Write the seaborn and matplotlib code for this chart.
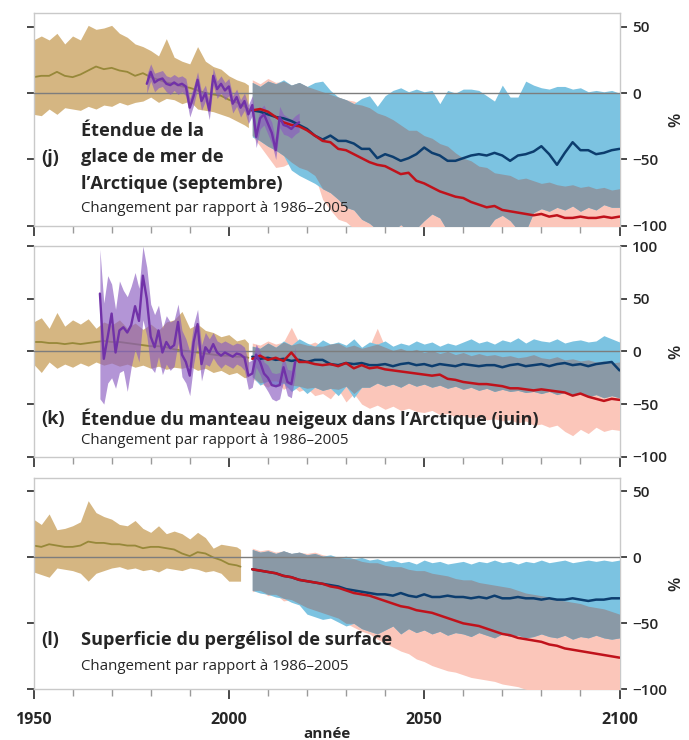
import numpy as np
import matplotlib
matplotlib.use("Agg")
import matplotlib.pyplot as plt
from matplotlib.ticker import FixedLocator, MultipleLocator
import seaborn as sns

sns.set_theme(style="white")
plt.rcParams["font.family"] = ["Open Sans", "DejaVu Sans"]

# ---------------------------------------------------------------- years
HIST_YEARS_JK = list(range(1950, 2005, 2)) + [2005]
HIST_YEARS_L = list(range(1950, 2003, 2)) + [2003]
PROJ_YEARS = list(range(2006, 2101, 2))
OBS_YEARS_J = list(range(1979, 2019))
OBS_YEARS_K = list(range(1967, 2018))

# ------------------------------------------------- (j) Arctic sea ice, Sept
SEAICE_HIST_MID = [12, 13, 13, 16, 13, 12, 14, 17, 20, 18, 19, 17, 16, 13, 15,
                   12, 10, 8, 7, 5, 4, 2, 0, -1, -2, -5, -7, -10, -12]
SEAICE_HIST_HI = [40, 43, 40, 45, 37, 43, 40, 51, 48, 49, 51, 45, 42, 37, 35,
                  32, 28, 41, 27, 24, 22, 35, 24, 20, 18, 13, 10, 8, 6]
SEAICE_HIST_LO = [-16, -17, -12, -16, -11, -12, -13, -10, -12, -9, -10, -7, -9,
                  -7, -6, -3, -7, -4, -5, -8, -6, -12, -13, -14, -16, -18, -21,
                  -24, -26]
SEAICE_OBS_MID = [7, 16, 8, 10, 11, 7, 6, 8, 6, 7, 5, -11, -2, 10, -6, 0, -13,
                  13, 3, 7, 2, 5, -8, -3, -11, -6, -16, -9, -33, -19, -16, -23,
                  -30, -43, -18, -24, -25, -27, -24, -22]
SEAICE_OBS_HI = [14, 22, 15, 16, 17, 13, 12, 14, 12, 13, 11, -4, 5, 16, 1, 6,
                 -6, 19, 9, 13, 8, 11, -2, 3, -5, 0, -9, -2, -25, -12, -9, -16,
                 -22, -36, -10, -16, -18, -20, -17, -15]
SEAICE_OBS_LO = [0, 9, 1, 4, 5, 1, -1, 2, -1, 1, -2, -18, -9, 3, -13, -6, -20,
                 6, -4, 0, -5, -2, -15, -10, -18, -13, -23, -17, -41, -27, -24,
                 -31, -38, -50, -26, -31, -32, -34, -31, -29]
SEAICE_RCP26_MID = [-13, -14, -16, -18, -19, -21, -24, -27, -32, -35, -32, -36,
                    -36, -38, -42, -42, -49, -46, -48, -51, -49, -46, -41, -45,
                    -47, -51, -51, -49, -47, -46, -47, -45, -47, -51, -47, -46,
                    -44, -40, -46, -54, -45, -37, -43, -43, -46, -45, -43, -42]
SEAICE_RCP26_HI = [8, 5, 9, 7, 10, 6, 8, 5, 8, 9, 2, -3, -5, -8, -4, -2, -10,
                   -2, 2, 4, 1, 3, 1, 2, -8, 2, 0, 3, 3, 2, -2, -6, 6, -3, -3, 9,
                   6, 4, 3, 5, 5, 3, 4, 1, 2, 1, 2, 0]
SEAICE_RCP26_LO = [-33, -36, -40, -43, -47, -58, -62, -65, -68, -72, -75, -80,
                   -86, -88, -95, -98, -103, -101, -104, -99, -104, -102, -96,
                   -91, -94, -104, -106, -103, -101, -104, -103, -95, -92, -96,
                   -103, -104, -90, -87, -89, -86, -88, -85, -89, -86, -88, -84,
                   -86, -86]
SEAICE_RCP85_MID = [-13, -12, -14, -18, -22, -24, -25, -28, -32, -36, -37, -42,
                    -43, -46, -49, -52, -54, -55, -58, -61, -60, -66, -68, -71,
                    -74, -76, -78, -79, -82, -84, -86, -85, -88, -89, -90, -91,
                    -92, -91, -93, -92, -94, -94, -93, -94, -94, -93, -94, -93]
SEAICE_RCP85_HI = [10, 7, 11, 8, 9, 6, 8, 5, 3, 1, -1, -3, -5, -6, -9, -11, -15,
                   -17, -20, -24, -28, -28, -32, -34, -38, -40, -45, -49, -51,
                   -55, -56, -60, -61, -62, -65, -64, -66, -68, -67, -69, -70,
                   -69, -71, -70, -72, -71, -73, -72]
SEAICE_RCP85_LO = [-32, -40, -48, -56, -55, -52, -56, -58, -62, -80, -88, -95,
                   -97, -102, -104, -106, -108, -105, -107, -109, -106, -108,
                   -105, -107, -106, -108, -105, -109, -107, -106, -108, -105,
                   -107, -104, -108, -106, -107, -109, -106, -108, -105, -107,
                   -109, -106, -108, -107, -105, -108]

# ------------------------------------------------ (k) Arctic snow cover, June
SNOW_HIST_MID = [9, 9, 8, 8, 7, 8, 7, 8, 9, 10, 9, 9, 8, 7, 6, 5, 5, 4, 2, 1,
                 0, -1, -2, -3, -4, -4, -5, -5, -6]
SNOW_HIST_HI = [28, 32, 22, 37, 24, 30, 26, 31, 22, 28, 25, 30, 22, 27, 21, 26,
                20, 28, 30, 38, 22, 26, 20, 18, 14, 16, 10, 12, 8]
SNOW_HIST_LO = [-12, -20, -10, -16, -12, -15, -11, -14, -10, -13, -11, -14,
                -12, -15, -13, -16, -14, -17, -15, -16, -14, -18, -16, -20, -18,
                -22, -20, -25, -24]
SNOW_OBS_MID = [55, -7, 14, 36, -1, 20, 23, 18, 25, 43, 29, 72, 50, 14, 4, 20,
                -1, 9, 3, 6, 28, -3, -10, -23, 9, 26, -12, 4, -1, 7, -1, -4, -1,
                -3, -5, -2, -3, -6, -23, -21, -3, -10, -21, -25, -32, -33, -32,
                -15, -29, -31, -10]
SNOW_OBS_HI = [97, 46, 72, 64, 40, 67, 58, 52, 62, 75, 60, 100, 80, 45, 35, 44,
               22, 34, 28, 30, 45, 20, 12, 0, 26, 40, 6, 18, 12, 18, 10, 8, 10,
               8, 6, 8, 7, 4, -10, -8, 7, 0, -10, -13, -20, -21, -20, -4, -17,
               -18, 4]
SNOW_OBS_LO = [-45, -50, -30, -25, -35, -20, -18, -38, -15, 2, -10, 30, 15,
               -15, -20, -5, -22, -12, -18, -14, 8, -24, -30, -42, -12, 8, -28,
               -12, -14, -6, -12, -16, -12, -14, -16, -12, -14, -18, -36, -34,
               -15, -22, -32, -38, -45, -47, -45, -28, -42, -44, -22]
SNOW_RCP26_MID = [-5, -7, -6, -8, -7, -9, -8, -10, -8, -8, -12, -13, -11, -12,
                  -11, -13, -13, -12, -14, -12, -11, -13, -12, -14, -12, -13,
                  -14, -12, -13, -14, -13, -13, -15, -13, -12, -14, -13, -12,
                  -14, -12, -11, -13, -12, -14, -12, -11, -10, -18]
SNOW_RCP26_HI = [5, 3, 8, 4, 10, 6, 12, 8, 5, 11, 7, 9, 6, 12, 4, 9, 7, 10, 5,
                 8, 6, 10, 7, 9, 5, 8, 6, 9, 12, 8, 10, 7, 11, 9, 13, 8, 12, 10,
                 9, 12, 8, 10, 11, 9, 10, 15, 12, 9]
SNOW_RCP26_LO = [-24, -32, -28, -34, -30, -38, -33, -40, -34, -37, -35, -42,
                 -33, -44, -34, -34, -30, -33, -31, -34, -30, -33, -31, -34, -32,
                 -35, -33, -36, -34, -37, -35, -38, -36, -38, -37, -39, -38, -40,
                 -38, -41, -39, -42, -40, -43, -41, -44, -42, -44]
SNOW_RCP85_MID = [-7, -4, -8, -6, -9, -1, -10, -10, -12, -13, -12, -14, -11,
                  -16, -13, -16, -15, -17, -18, -19, -20, -21, -22, -23, -22,
                  -26, -27, -29, -30, -31, -31, -32, -33, -35, -35, -36, -37,
                  -36, -37, -38, -39, -42, -40, -43, -45, -47, -45, -46]
SNOW_RCP85_HI = [8, 6, 10, 7, 9, 23, 8, 6, 9, 5, 7, 8, 4, 6, 3, 5, 22, 4, 1, 3,
                 0, 2, -1, 1, -2, 0, -3, -1, -4, -2, -4, -3, -5, -4, -6, -5, -3,
                 -6, -7, -5, -8, -7, -9, -8, -10, -9, -11, -10]
SNOW_RCP85_LO = [-26, -30, -34, -28, -36, -32, -38, -35, -42, -40, -45, -36,
                 -48, -40, -50, -54, -51, -55, -52, -56, -54, -57, -58, -56, -60,
                 -59, -62, -61, -63, -62, -65, -64, -66, -65, -68, -66, -70, -69,
                 -72, -70, -76, -80, -74, -78, -72, -76, -74, -75]

# ------------------------------------------- (l) near-surface permafrost area
PERMA_HIST_MID = [9, 8, 10, 9, 8, 8, 9, 12, 11, 11, 10, 10, 9, 9, 7, 8, 8, 7,
                  6, 3, 1, 4, 3, 0, -2, -5, -6, -7]
PERMA_HIST_HI = [29, 25, 33, 21, 22, 24, 27, 43, 34, 31, 29, 25, 24, 28, 22,
                 19, 24, 18, 20, 18, 14, 19, 15, 7, 10, 9, 8, 6]
PERMA_HIST_LO = [-11, -13, -15, -8, -9, -10, -12, -18, -12, -10, -8, -7, -9,
                 -8, -10, -9, -11, -8, -9, -10, -8, -9, -11, -10, -12, -18, -18,
                 -18]
PERMA_RCP26_MID = [-9, -10, -11, -12, -14, -15, -17, -18, -19, -20, -21, -22,
                   -24, -25, -26, -27, -28, -28, -29, -27, -29, -30, -28, -30,
                   -30, -29, -30, -30, -31, -30, -31, -29, -31, -31, -30, -31,
                   -31, -32, -31, -32, -32, -31, -32, -33, -32, -32, -31, -31]
PERMA_RCP26_HI = [6, 4, 5, 3, 5, 3, 4, 2, 3, 1, 2, 0, 1, -1, 0, -2, -1, -3, -2,
                  -4, -3, -5, -2, -4, -3, -5, -4, -3, -5, -3, -4, -2, -4, -3,
                  -5, -3, -4, -2, -4, -3, -2, -4, -3, -2, -3, -2, -3, -2]
PERMA_RCP26_LO = [-25, -27, -28, -30, -31, -34, -36, -43, -45, -47, -46, -49,
                  -52, -50, -54, -56, -58, -55, -52, -58, -54, -57, -55, -58,
                  -56, -59, -57, -58, -60, -57, -59, -61, -58, -60, -59, -61,
                  -60, -58, -60, -61, -59, -62, -60, -61, -59, -61, -62, -61]
PERMA_RCP85_MID = [-9, -10, -11, -12, -14, -15, -17, -18, -19, -20, -22, -23,
                   -25, -27, -28, -29, -31, -33, -35, -37, -38, -40, -41, -42,
                   -44, -46, -48, -50, -51, -52, -54, -56, -58, -59, -61, -62,
                   -63, -64, -66, -67, -69, -70, -71, -72, -73, -74, -75, -76]
PERMA_RCP85_HI = [7, 5, 6, 4, 5, 3, 4, 3, 4, 2, 1, 0, -1, -1, -3, -4, -4, -6,
                  -7, -7, -9, -10, -10, -12, -13, -14, -16, -17, -17, -19, -20,
                  -21, -22, -23, -25, -27, -28, -29, -30, -32, -33, -34, -35,
                  -37, -38, -39, -41, -43]
PERMA_RCP85_LO = [-26, -25, -29, -28, -33, -32, -35, -38, -40, -42, -44, -46,
                  -50, -53, -56, -58, -62, -65, -68, -71, -73, -77, -79, -82,
                  -84, -86, -87, -89, -91, -92, -93, -94, -96, -97, -98, -100,
                  -101, -102, -103, -104, -105, -105, -106, -106, -107, -107,
                  -108, -108]

# ---------------------------------------------------------------- labels
YTICKS_60 = [50, 0, -50, -100]
YTICKS_100 = [100, 50, 0, -50, -100]
XTICKS = [1950, 2000, 2050, 2100]
SUBTITLE = "Changement par rapport à 1986–2005"

# ---------------------------------------------------------------- styling
TAN_BAND = "#d5b682"
TAN_LINE = "#978839"
BLUE_BAND = "#7cc3e1"
PINK_BAND = "#fbc6ba"
GRAY_BAND = "#8a99a6"
BLUE_LINE = "#0c3d6e"
RED_LINE = "#c0121b"
PURPLE_LINE = "#7132a8"
PURPLE_BAND = "#8a5cc0"
TEXT = "#262626"
SPINE = "#c9c9c9"


def line(ax, x, y, color, lw, z):
    sns.lineplot(x=np.asarray(x), y=np.asarray(y), ax=ax, color=color, lw=lw,
                 sort=False, errorbar=None, legend=False, zorder=z)


def draw_panel(ax, hist, obs, rcp26, rcp85, ylim, yticks):
    hy, hmid, hhi, hlo = hist
    ax.fill_between(hy, hlo, hhi, color=TAN_BAND, lw=0, zorder=1)
    line(ax, hy, hmid, TAN_LINE, 1.3, 2)

    py = np.asarray(PROJ_YEARS)
    lmid, lhi, llo = (np.asarray(a, float) for a in rcp26)
    hmid_, hhi_, hlo_ = (np.asarray(a, float) for a in rcp85)
    ax.fill_between(py, hlo_, hhi_, color=PINK_BAND, lw=0, zorder=3)
    ax.fill_between(py, llo, lhi, color=BLUE_BAND, lw=0, zorder=4)
    ov_lo = np.maximum(llo, hlo_)
    ov_hi = np.minimum(lhi, hhi_)
    ax.fill_between(py, ov_lo, ov_hi, where=ov_hi > ov_lo, interpolate=True,
                    color=GRAY_BAND, lw=0, zorder=5)

    ax.axhline(0, color="#7d7d7d", lw=1.0, zorder=6)

    if obs is not None:
        oy, omid, ohi, olo = obs
        ax.fill_between(oy, olo, ohi, color=PURPLE_BAND, alpha=0.65, lw=0,
                        zorder=7)
    line(ax, py, lmid, BLUE_LINE, 1.8, 8)
    line(ax, py, hmid_, RED_LINE, 1.8, 8)
    if obs is not None:
        line(ax, oy, omid, PURPLE_LINE, 1.7, 9)

    ax.set_xlim(1950, 2100)
    ax.set_ylim(*ylim)
    ax.set_xlabel("")
    ax.xaxis.set_major_locator(FixedLocator(XTICKS))
    ax.xaxis.set_minor_locator(MultipleLocator(10))
    ax.set_yticks(yticks)
    ax.set_yticklabels([str(v).replace("-", "\u2212") for v in yticks],
                       fontweight="semibold", fontsize=11, color=TEXT)
    ax.tick_params(axis="x", which="major", direction="out", length=7,
                   width=1.3, color="#3a3a3a", bottom=True, top=False,
                   labelbottom=False)
    ax.tick_params(axis="x", which="minor", direction="out", length=5,
                   width=1.0, color="#9a9a9a", bottom=True, top=False)
    ax.tick_params(axis="y", which="major", direction="out", length=5,
                   width=1.3, color="#3a3a3a", left=True, right=True,
                   labelleft=False, labelright=True, pad=4)
    for s in ax.spines.values():
        s.set_color(SPINE)
        s.set_linewidth(1.0)
        s.set_visible(True)
    ax.yaxis.set_label_position("right")
    ax.set_ylabel("%", rotation=90, fontsize=12, fontweight="semibold",
                  color=TEXT, labelpad=1)
    ax.set_facecolor("white")


fig = plt.figure(figsize=(6.89, 7.40), dpi=100)
W, H = 689.0, 740.0
left, right = 33.5, 619.5


def axes_at(top_px, bottom_px):
    return fig.add_axes([left / W, 1 - bottom_px / H, (right - left) / W,
                         (bottom_px - top_px) / H])


ax_j = axes_at(13.4, 225.9)
ax_k = axes_at(246.2, 456.7)
ax_l = axes_at(478.3, 689.3)

draw_panel(ax_j,
           (HIST_YEARS_JK, SEAICE_HIST_MID, SEAICE_HIST_HI, SEAICE_HIST_LO),
           (OBS_YEARS_J, SEAICE_OBS_MID, SEAICE_OBS_HI, SEAICE_OBS_LO),
           (SEAICE_RCP26_MID, SEAICE_RCP26_HI, SEAICE_RCP26_LO),
           (SEAICE_RCP85_MID, SEAICE_RCP85_HI, SEAICE_RCP85_LO),
           (-100, 60), YTICKS_60)
draw_panel(ax_k,
           (HIST_YEARS_JK, SNOW_HIST_MID, SNOW_HIST_HI, SNOW_HIST_LO),
           (OBS_YEARS_K, SNOW_OBS_MID, SNOW_OBS_HI, SNOW_OBS_LO),
           (SNOW_RCP26_MID, SNOW_RCP26_HI, SNOW_RCP26_LO),
           (SNOW_RCP85_MID, SNOW_RCP85_HI, SNOW_RCP85_LO),
           (-100, 100), YTICKS_100)
draw_panel(ax_l,
           (HIST_YEARS_L, PERMA_HIST_MID, PERMA_HIST_HI, PERMA_HIST_LO),
           None,
           (PERMA_RCP26_MID, PERMA_RCP26_HI, PERMA_RCP26_LO),
           (PERMA_RCP85_MID, PERMA_RCP85_HI, PERMA_RCP85_LO),
           (-100, 60), YTICKS_60)

ax_l.tick_params(axis="x", which="major", labelbottom=True, pad=9)
ax_l.set_xticklabels([str(v) for v in XTICKS], fontweight="bold",
                     fontsize=11.5, color=TEXT)


def ftext(x_px, y_px, s, size, weight):
    fig.text(x_px / W, 1 - y_px / H, s, ha="left", va="center",
             fontsize=size, fontweight=weight, color=TEXT)


TITLE_SIZE = 13.1
SUB_SIZE = 10.8
# (j)
ftext(41, 158, "(j)", TITLE_SIZE, "bold")
ftext(81, 131, "Étendue de la", TITLE_SIZE, "bold")
ftext(81, 157, "glace de mer de", TITLE_SIZE, "bold")
ftext(81, 184, "l’Arctique (septembre)", TITLE_SIZE, "bold")
ftext(81, 209, SUBTITLE, SUB_SIZE, "normal")
# (k)
ftext(41, 419, "(k)", TITLE_SIZE, "bold")
ftext(81, 419, "Étendue du manteau neigeux dans l’Arctique (juin)",
      TITLE_SIZE, "bold")
ftext(81, 441, SUBTITLE, SUB_SIZE, "normal")
# (l)
ftext(41, 640, "(l)", TITLE_SIZE, "bold")
ftext(81, 640, "Superficie du pergélisol de surface", TITLE_SIZE, "bold")
ftext(81, 667, SUBTITLE, SUB_SIZE, "normal")

fig.text((left + right) / 2 / W, 1 - 734 / H, "année", ha="center",
         va="center", fontsize=11, fontweight="bold", color=TEXT)

fig.savefig("out.png", dpi=100, facecolor="white")
